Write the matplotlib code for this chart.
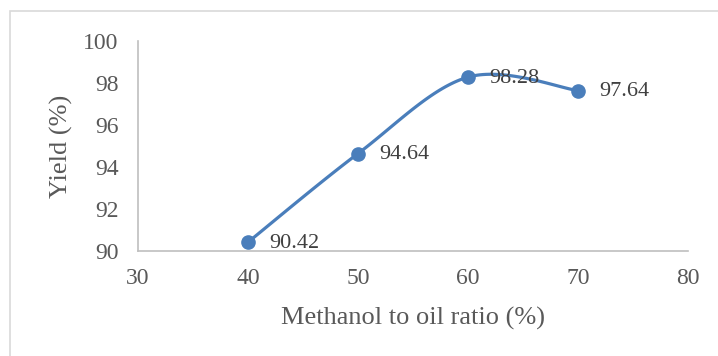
import numpy as np
import matplotlib
matplotlib.use("Agg")
from matplotlib import pyplot as plt
from matplotlib.patches import Rectangle

# data
ratio = [40, 50, 60, 70]
yield_pct = [90.42, 94.64, 98.28, 97.64]
labels = ["90.42", "94.64", "98.28", "97.64"]

plt.rcParams['font.family'] = ['Liberation Serif', 'DejaVu Serif']

blue = '#4a7ebb'
grey_txt = '#595959'

def smooth(xs, ys, n=40):
    # Excel-like smoothed line (Catmull-Rom as Bezier)
    px = np.array([xs[0]] + list(xs) + [xs[-1]], dtype=float)
    py = np.array([ys[0]] + list(ys) + [ys[-1]], dtype=float)
    outx, outy = [], []
    t = np.linspace(0, 1, n)
    for i in range(1, len(px) - 2):
        p0 = np.array([px[i], py[i]])
        p3 = np.array([px[i + 1], py[i + 1]])
        c1 = p0 + (np.array([px[i + 1], py[i + 1]]) - np.array([px[i - 1], py[i - 1]])) / 6
        c2 = p3 - (np.array([px[i + 2], py[i + 2]]) - p0) / 6
        b = ((1 - t) ** 3)[:, None] * p0 + (3 * (1 - t) ** 2 * t)[:, None] * c1 \
            + (3 * (1 - t) * t ** 2)[:, None] * c2 + (t ** 3)[:, None] * p3
        outx.extend(b[:, 0])
        outy.extend(b[:, 1])
    return outx, outy

fig = plt.figure(figsize=(7.18, 3.56), dpi=100)
fig.patches.append(Rectangle((10 / 718, -0.1), 1.2, 1.1 - 11 / 356, transform=fig.transFigure,
                             fill=False, edgecolor='#d9d9d9', linewidth=1.2))
ax = fig.add_axes([138 / 718, 1 - 251 / 356, 550 / 718, 210 / 356])

sx, sy = smooth(ratio, yield_pct)
ax.plot(sx, sy, color=blue, linewidth=2.3, solid_capstyle='round', zorder=2)
ax.plot(ratio, yield_pct, 'o', color=blue, markersize=9.5, zorder=3)

for x, y, s in zip(ratio, yield_pct, labels):
    ax.annotate(s, (x, y), xytext=(15, -1), textcoords='offset points',
                ha='left', va='center', fontsize=16, color='#404040')

ax.set_xlim(30, 80)
ax.set_ylim(90, 100)
ax.set_xticks(range(30, 81, 10))
ax.set_yticks(range(90, 101, 2))
ax.tick_params(length=0, labelsize=17, labelcolor=grey_txt)
ax.tick_params(axis='y', pad=14)
ax.tick_params(axis='x', pad=12)
for side in ['top', 'right']:
    ax.spines[side].set_visible(False)
for side in ['left', 'bottom']:
    ax.spines[side].set_color('#bfbfbf')
    ax.spines[side].set_linewidth(1.2)

fig.text(413 / 718, 1 - 318 / 356, 'Methanol to oil ratio (%)', fontsize=19,
         color=grey_txt, ha='center', va='center')
fig.text(61 / 718, 1 - 146 / 356, 'Yield (%)', fontsize=19, color=grey_txt,
         ha='center', va='center', rotation=90)

fig.savefig('out.png', dpi=100)
